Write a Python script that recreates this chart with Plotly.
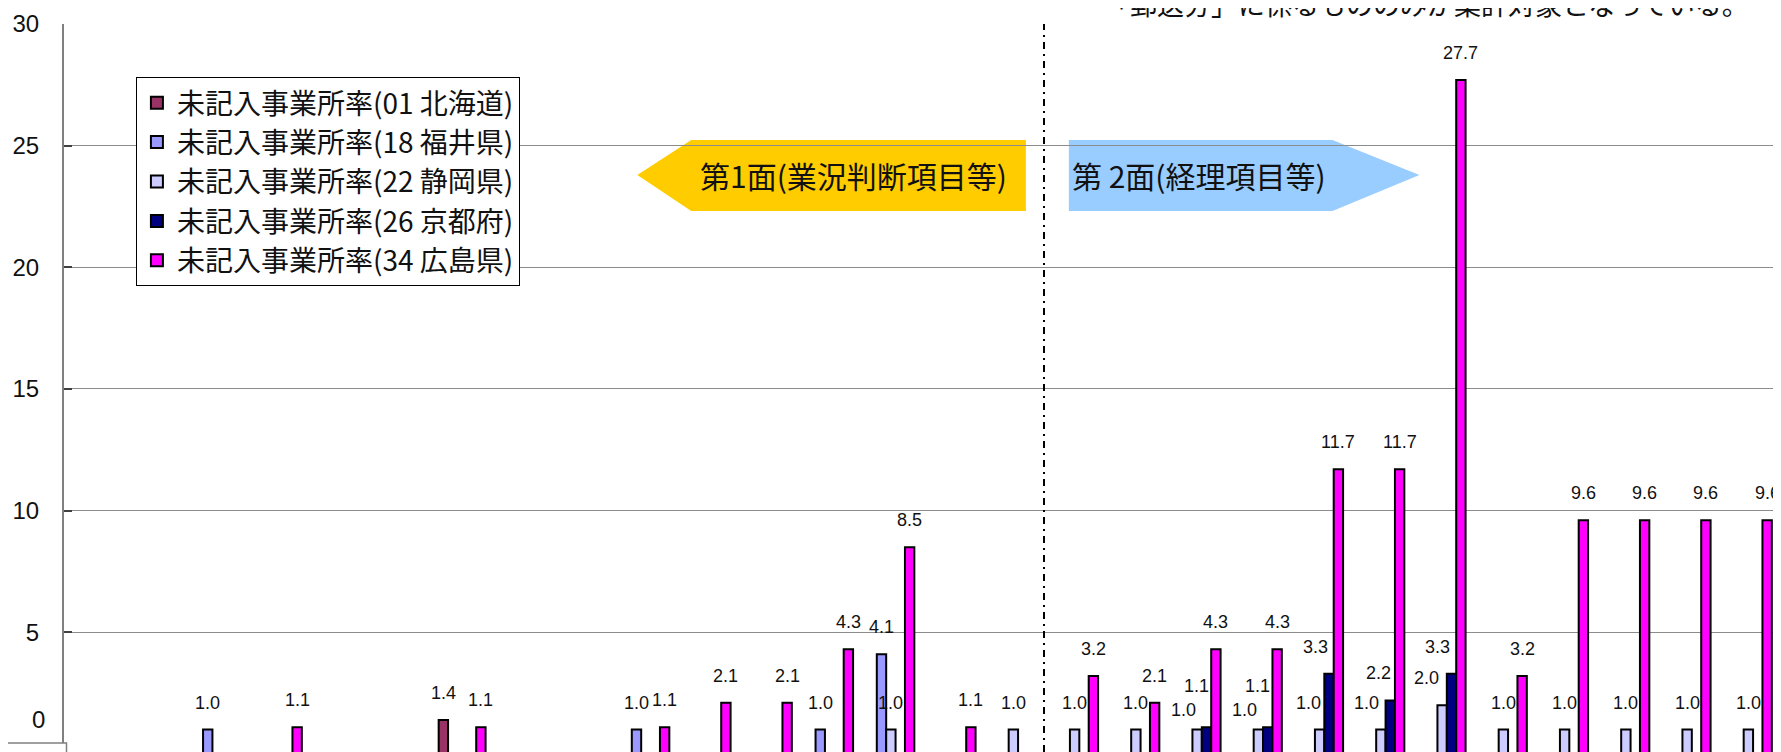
import plotly.graph_objects as go

# ---------------- data ----------------
categories = [f"項目{i+1}" for i in range(28)]
series_names = [
    "未記入事業所率(01 北海道)",
    "未記入事業所率(18 福井県)",
    "未記入事業所率(22 静岡県)",
    "未記入事業所率(26 京都府)",
    "未記入事業所率(34 広島県)",
]
series_colors = ["#993366", "#9999FF", "#CCCCFF", "#000080", "#FF00FF"]

N = None
hokkaido = [N, N, N, N, N, N, 1.4, N, N, N, N, N, N, N,
            N, N, N, N, N, N, N, N, N, N, N, N, N, N]
fukui    = [N, N, 1.0, N, N, N, N, N, N, 1.0, N, N, 1.0, 4.1,
            N, N, N, N, N, N, N, N, N, N, N, N, N, N]
shizuoka = [N, N, N, N, N, N, N, N, N, N, N, N, N, 1.0,
            N, 1.0, 1.0, 1.0, 1.0, 1.0, 1.0, 1.0, 2.0, 1.0, 1.0, 1.0, 1.0, 1.0]
kyoto    = [N, N, N, N, N, N, N, N, N, N, N, N, N, N,
            N, N, N, N, 1.1, 1.1, 3.3, 2.2, 3.3, N, N, N, N, N]
hiroshima = [N, N, N, 1.1, N, N, 1.1, N, N, 1.1, 2.1, 2.1, 4.3, 8.5,
             1.1, N, 3.2, 2.1, 4.3, 4.3, 11.7, 11.7, 27.7, 3.2, 9.6, 9.6, 9.6, 9.6]
series_values = [hokkaido, fukui, shizuoka, kyoto, hiroshima]

y_ticks = [5, 10, 15, 20, 25, 30]
divider_after = 15   # last category of 第1面
label_1 = "第1面(業況判断項目等)"
label_2 = "第 2面(経理項目等)"
top_note = "「郵送分」に係るもののみが集計対象となっている。"

# label nudges (px) where labels crowd, as in the original (series, category): (dx, dy)
label_nudge = {
    (2, 18): (-14, 7), (3, 18): (-10, -14),
    (2, 19): (-14, 7), (3, 19): (-10, -14),
    (2, 20): (-11, 0), (3, 20): (-14, 0),
    (2, 21): (-14, 0), (3, 21): (-12, 0),
    (2, 22): (-16, 0), (3, 22): (-14, 0),
}

# ---------------- layout helpers ----------------
# the page body has an 8px default margin; figure is sized/offset to compensate
OFF = 8
VW, VH = 1781, 752
W, H = VW - OFF, VH - OFF
PL, PT = 64, 24                      # plot-area left/top in viewport pixels
L, T, R, B = PL - OFF, PT - OFF, 0, 0
PW, PH = W - L - R, H - T - B
def fx(px):
    return (px - PL) / PW
def fy(py):
    return 1 - (py - PT) / PH

BARGAP = 0.234
NS = len(series_values)
bw = (1 - BARGAP) / NS

FONT_NUM = "Liberation Sans, Arial, Noto Sans CJK JP"
FONT_JP = "Noto Sans CJK JP, Liberation Sans"

xs = list(range(len(categories)))

fig = go.Figure()
for name, col, vals in zip(series_names, series_colors, series_values):
    fig.add_trace(go.Bar(
        x=xs, y=vals, name=name,
        marker=dict(color=col, line=dict(color="black", width=2)),
        hovertext=categories,
    ))

annotations = []
for s, vals in enumerate(series_values):
    off = (s - (NS - 1) / 2) * bw
    for i, v in enumerate(vals):
        if v is None:
            continue
        dx, dy = label_nudge.get((s, i), (0, 0))
        annotations.append(dict(
            x=xs[i] + off, y=v, xref="x", yref="y", text=f"{v:.1f}",
            showarrow=False, yanchor="bottom", xanchor="center",
            yshift=15 - dy, xshift=dx,
            font=dict(family=FONT_NUM, size=18, color="#111111"),
        ))

# "0" tick label (baseline lies just below the visible area)
annotations.append(dict(
    x=fx(38), y=fy(719), xref="paper", yref="paper", text="0",
    showarrow=False, xanchor="center", yanchor="middle",
    font=dict(family=FONT_NUM, size=24, color="#111111"),
))
# arrow texts
annotations.append(dict(
    x=fx(699), y=fy(175), xref="paper", yref="paper", text=label_1,
    showarrow=False, xanchor="left", yanchor="middle",
    font=dict(family=FONT_JP, size=30, color="#111111"),
))
annotations.append(dict(
    x=fx(1071), y=fy(175), xref="paper", yref="paper", text=label_2,
    showarrow=False, xanchor="left", yanchor="middle",
    font=dict(family=FONT_JP, size=30, color="#111111"),
))
# cut-off note at the top
annotations.append(dict(
    x=fx(1753), y=fy(3), xref="paper", yref="paper", text=top_note,
    showarrow=False, xanchor="right", yanchor="middle",
    font=dict(family=FONT_JP, size=27, color="#111111"),
))

def poly(pts):
    return "M " + " L ".join(f"{fx(a):.5f},{fy(b):.5f}" for a, b in pts) + " Z"

shapes = [
    dict(type="path", xref="paper", yref="paper", layer="below",
         path=poly([(638, 175), (692, 140), (1027, 140), (1027, 211), (692, 211)]),
         fillcolor="#FFCC00", line=dict(width=0)),
    dict(type="path", xref="paper", yref="paper", layer="below",
         path=poly([(1070, 140), (1334, 140), (1421, 175), (1334, 211), (1070, 211)]),
         fillcolor="#99CCFF", line=dict(width=0)),
    dict(type="line", xref="x", yref="paper",
         x0=divider_after + 0.5, x1=divider_after + 0.5, y0=0, y1=1,
         line=dict(color="black", width=2, dash="7px,5px,2px,5px")),
    dict(type="rect", xref="paper", yref="paper",
         x0=fx(-10), x1=fx(66.5), y0=fy(770), y1=fy(743),
         fillcolor="white", line=dict(color="#808080", width=1.5)),
]

fig.update_layout(
    width=W, height=H,
    margin=dict(l=L, r=R, t=T, b=B, pad=0),
    paper_bgcolor="white", plot_bgcolor="white",
    barmode="group", bargap=BARGAP, bargroupgap=0,
    showlegend=True,
    legend=dict(
        x=fx(136), y=fy(77), xanchor="left", yanchor="top",
        bgcolor="white", bordercolor="black", borderwidth=1,
        font=dict(family=FONT_JP, size=28, color="#111111"),
        tracegroupgap=0,
    ),
    annotations=annotations,
    shapes=shapes,
    xaxis=dict(
        range=[-0.5, len(categories) - 0.5],
        tickvals=xs, ticktext=categories, showticklabels=False,
        showgrid=False, zeroline=False, showline=False, ticks="",
    ),
    yaxis=dict(
        range=[0.08, 30],
        tickvals=y_ticks, ticktext=[str(t) for t in y_ticks],
        showgrid=True, gridcolor="#8c8c8c", gridwidth=1,
        zeroline=False,
        showline=True, linecolor="#808080", linewidth=2, mirror=True,
        ticks="inside", ticklen=8, tickcolor="#404040", tickwidth=1.5,
        ticklabelstandoff=18,
        tickfont=dict(family=FONT_NUM, size=24, color="#111111"),
    ),
)

fig.write_html("out.html")
